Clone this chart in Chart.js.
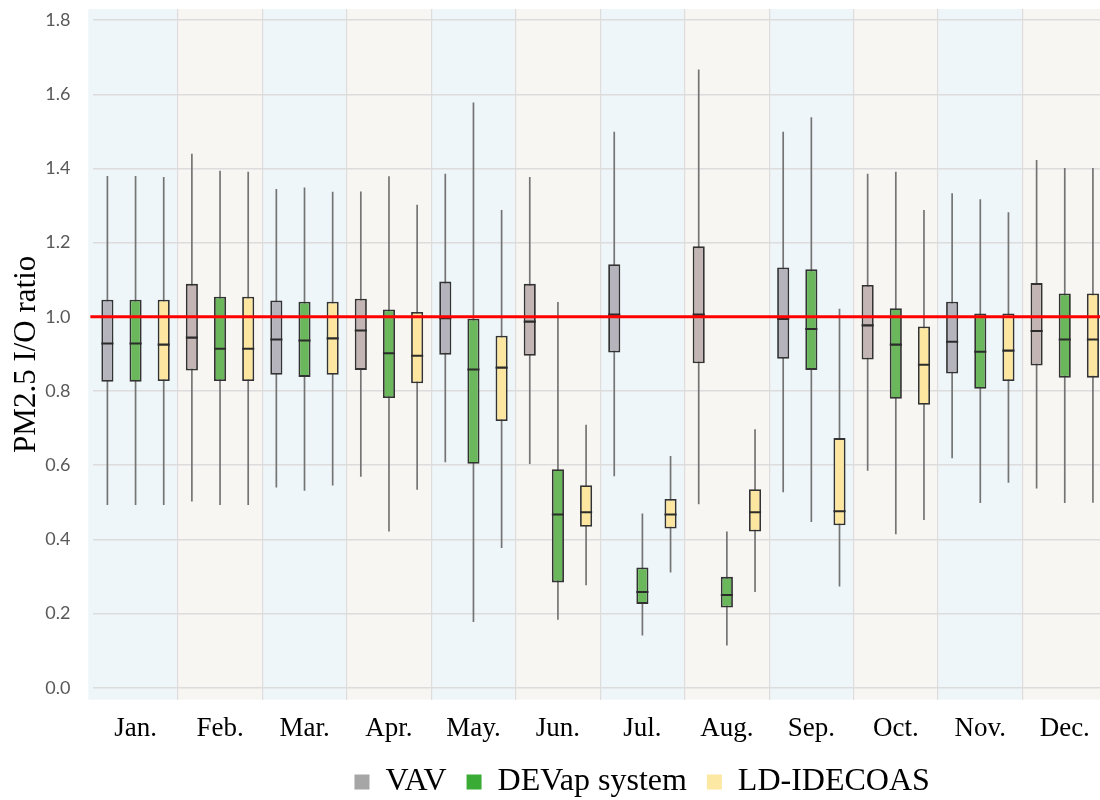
<!DOCTYPE html>
<html>
<head>
<meta charset="utf-8">
<script src="https://cdn.jsdelivr.net/npm/chart.js@4/dist/chart.umd.min.js"></script>
<style>
  html, body { margin: 0; padding: 0; background: #fff; overflow: hidden; }
  #wrap { width: 1108px; height: 820px; }
</style>
</head>
<body>
<div id="wrap"><canvas id="chart" width="1108" height="820"></canvas></div>
<script>
// month categories
const months = ['Jan.', 'Feb.', 'Mar.', 'Apr.', 'May.', 'Jun.', 'Jul.', 'Aug.', 'Sep.', 'Oct.', 'Nov.', 'Dec.'];

// VAV
const vavMin = [0.493, 0.502, 0.540, 0.569, 0.608, 0.603, 0.570, 0.495, 0.527, 0.585, 0.619, 0.537];
const vavQ1  = [0.825, 0.855, 0.844, 0.857, 0.898, 0.895, 0.904, 0.875, 0.887, 0.885, 0.847, 0.869];
const vavMed = [0.928, 0.944, 0.939, 0.963, 0.996, 0.987, 1.006, 1.006, 0.994, 0.977, 0.933, 0.962];
const vavQ3  = [1.046, 1.089, 1.044, 1.049, 1.095, 1.089, 1.142, 1.190, 1.133, 1.086, 1.041, 1.091];
const vavMax = [1.380, 1.440, 1.345, 1.338, 1.386, 1.377, 1.499, 1.667, 1.499, 1.386, 1.333, 1.423];

// DEVap system
const devMin = [0.493, 0.493, 0.531, 0.421, 0.177, 0.183, 0.141, 0.114, 0.447, 0.414, 0.498, 0.498];
const devQ1  = [0.825, 0.827, 0.838, 0.781, 0.604, 0.284, 0.226, 0.216, 0.857, 0.779, 0.806, 0.836];
const devMed = [0.928, 0.914, 0.936, 0.902, 0.858, 0.467, 0.258, 0.250, 0.967, 0.925, 0.906, 0.939];
const devQ3  = [1.046, 1.054, 1.041, 1.020, 0.995, 0.589, 0.324, 0.299, 1.128, 1.023, 1.009, 1.063];
const devMax = [1.380, 1.394, 1.349, 1.379, 1.578, 1.040, 0.470, 0.421, 1.538, 1.391, 1.317, 1.401];

// LD-IDECOAS
const ldMin = [0.493, 0.493, 0.545, 0.534, 0.377, 0.276, 0.311, 0.258, 0.273, 0.452, 0.553, 0.499];
const ldQ1  = [0.827, 0.827, 0.844, 0.821, 0.719, 0.434, 0.429, 0.421, 0.438, 0.763, 0.827, 0.836];
const ldMed = [0.925, 0.914, 0.942, 0.895, 0.863, 0.473, 0.467, 0.473, 0.476, 0.871, 0.909, 0.939];
const ldQ3  = [1.046, 1.054, 1.041, 1.013, 0.949, 0.546, 0.509, 0.535, 0.673, 0.974, 1.009, 1.063];
const ldMax = [1.377, 1.391, 1.337, 1.302, 1.288, 0.709, 0.625, 0.697, 1.022, 1.288, 1.282, 1.401];

const refValue = 1.0;   // red reference line
const medHalf = 0.0028; // half thickness of median mark
const legendShiftX = 42;
const legendShiftY = -12;

const blueBand = '#eef6f9';
const beigeBand = '#f8f6f2';
const bandColors = months.map((m, i) => i % 2 === 0 ? blueBand : beigeBand);
const vavColors = months.map((m, i) => i % 2 === 0 ? '#b5b4bd' : '#c2b5b4');

const series = [
  { name: 'VAV', key: 'vav', min: vavMin, q1: vavQ1, med: vavMed, q3: vavQ3, max: vavMax, fill: vavColors, legend: '#a6a6a6' },
  { name: 'DEVap system', key: 'dev', min: devMin, q1: devQ1, med: devMed, q3: devQ3, max: devMax, fill: '#6ab85b', legend: '#3aab35' },
  { name: 'LD-IDECOAS', key: 'ld', min: ldMin, q1: ldQ1, med: ldMed, q3: ldQ3, max: ldMax, fill: '#fde69f', legend: '#fde8a3' }
];

const datasets = [];
series.forEach(s => {
  datasets.push({
    label: s.name + ' median',
    stack: s.key,
    order: 0,
    data: s.med.map(v => [v - medHalf, v + medHalf]),
    backgroundColor: '#2b2b2b',
    borderWidth: 0,
    barPercentage: 0.43,
    categoryPercentage: 1.0
  });
});
series.forEach(s => {
  datasets.push({
    label: s.name,
    isBox: true,
    legendColor: s.legend,
    stack: s.key,
    order: 1,
    data: s.q1.map((v, i) => [v, s.q3[i]]),
    backgroundColor: s.fill,
    borderColor: '#333333',
    borderWidth: 1.8,
    borderSkipped: false,
    barPercentage: 0.43,
    categoryPercentage: 1.0
  });
});
series.forEach(s => {
  datasets.push({
    label: s.name + ' range',
    stack: s.key,
    order: 2,
    data: s.min.map((v, i) => [v, s.max[i]]),
    backgroundColor: '#747474',
    borderWidth: 0,
    barPercentage: 0.06,
    categoryPercentage: 1.0
  });
});

const bandPlugin = {
  id: 'bands',
  afterLayout(chart) {
    // nudge the legend to where it sits in the figure
    if (chart.legend) {
      chart.legend.left += legendShiftX;
      chart.legend.right += legendShiftX;
      chart.legend.top += legendShiftY;
      chart.legend.bottom += legendShiftY;
    }
  },
  beforeDraw(chart) {
    const { ctx, chartArea, scales } = chart;
    const x = scales.x;
    const half = (x.getPixelForValue(1) - x.getPixelForValue(0)) / 2;
    ctx.save();
    months.forEach((m, i) => {
      const c = x.getPixelForValue(i);
      const left = i === 0 ? c - half - 5 : c - half;
      ctx.fillStyle = bandColors[i];
      ctx.fillRect(left, chartArea.top, c + half - left, chartArea.bottom - chartArea.top);
    });
    ctx.restore();
  }
};

const refLinePlugin = {
  id: 'refLine',
  afterDatasetsDraw(chart) {
    const { ctx, chartArea, scales } = chart;
    const y = scales.y.getPixelForValue(refValue);
    ctx.save();
    ctx.strokeStyle = '#ff0000';
    ctx.lineWidth = 3;
    ctx.beginPath();
    ctx.moveTo(chartArea.left - 3, y);
    ctx.lineTo(chartArea.right, y);
    ctx.stroke();
    ctx.restore();
  }
};

const ctx = document.getElementById('chart').getContext('2d');
const myChart = new Chart(ctx, {
  type: 'bar',
  data: { labels: months, datasets: datasets },
  plugins: [bandPlugin, refLinePlugin],
  options: {
    responsive: false,
    animation: false,
    layout: { padding: { top: 9, left: 8, right: 1, bottom: 0 } },
    plugins: {
      tooltip: { enabled: false },
      legend: {
        position: 'bottom',
        fullSize: false,
        labels: {
          font: { family: 'Liberation Serif', size: 32 },
          color: '#000',
          boxWidth: 15,
          boxHeight: 15,
          padding: 20,
          generateLabels(chart) {
            return chart.data.datasets
              .map((d, i) => ({ d, i }))
              .filter(o => o.d.isBox)
              .map(o => ({
                text: o.d.label,
                fillStyle: o.d.legendColor,
                strokeStyle: o.d.legendColor,
                lineWidth: 0,
                datasetIndex: o.i,
                hidden: false
              }));
          }
        }
      }
    },
    scales: {
      x: {
        grid: {
          offset: true,
          drawTicks: false,
          color: ctx => ctx.index === 0 ? 'rgba(0,0,0,0)' : '#dedcdc',
          lineWidth: 1.2
        },
        border: { display: false },
        ticks: {
          font: { family: 'Liberation Serif', size: 27 },
          color: '#000',
          padding: 13
        }
      },
      y: {
        stacked: false,
        min: -0.032,
        max: 1.83,
        grid: { drawTicks: true, tickLength: 23, tickColor: 'rgba(0,0,0,0)', color: '#dcdcdc', lineWidth: 1.5 },
        border: { display: false },
        ticks: {
          includeBounds: false,
          stepSize: 0.2,
          padding: 0,
          font: { family: 'Lato', size: 18, lineHeight: 1 },
          color: '#595959',
          callback: v => Number(v).toFixed(1)
        },
        title: {
          display: true,
          text: 'PM2.5 I/O ratio',
          font: { family: 'Liberation Serif', size: 31 },
          color: '#000',
          padding: { top: 0, bottom: 0 }
        }
      }
    }
  }
});
</script>
</body>
</html>
